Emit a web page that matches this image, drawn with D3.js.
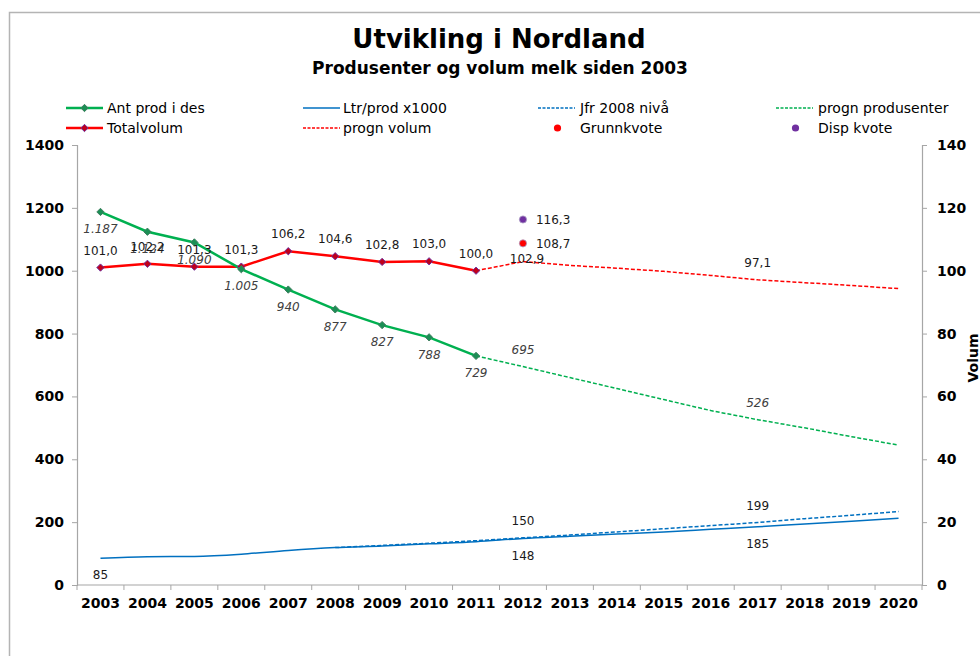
<!DOCTYPE html>
<html>
<head>
<meta charset="utf-8">
<script src="https://cdn.jsdelivr.net/npm/d3@7"></script>
<style>
  body { margin: 0; background: #fff; }
  text { font-family: "DejaVu Sans", Verdana, sans-serif; }
</style>
</head>
<body>
<script>
// data
var years = ["2003","2004","2005","2006","2007","2008","2009","2010","2011",
  "2012","2013","2014","2015","2016","2017","2018","2019","2020"];
var antProd = [1187, 1124, 1090, 1005, 940, 877, 827, 788, 729];              // 2003-2011
var prognProd = [729, 695, 660, 625, 590, 555, 526, 500, 472, 445];           // 2011-2020
var totalvolum = [101.0, 102.2, 101.3, 101.3, 106.2, 104.6, 102.8, 103.0, 100.0]; // 2003-2011
var prognVolum = [100.0, 102.9, 101.7, 100.8, 99.8, 98.5, 97.1, 96.2, 95.3, 94.3]; // 2011-2020
var ltrProd = [85, 90, 91, 98, 110, 119, 124, 131, 138, 148, 155, 162, 169, 177, 185, 194, 203, 212];
var jfr2008 = [119, 126, 133, 141, 150, 159, 169, 179, 189, 199, 211, 222, 234]; // 2008-2020
var grunnkvote = [{year: "2012", value: 108.7}];
var dispKvote = [{year: "2012", value: 116.3}];
var leftTicks = [0, 200, 400, 600, 800, 1000, 1200, 1400];
var rightTicks = [0, 20, 40, 60, 80, 100, 120, 140];
var progLabelYears = ["2012", "2017"];

var width = 980, height = 656,
  green = "#00B050", greenDark = "#1B8F55",
  red = "#FF0000", redDark = "#C0001A",
  blue = "#0070C0", purple = "#7030A0", axisGrey = "#a6a6a6";

var no = d3.formatLocale({decimal: ",", thousands: ".", grouping: [3], currency: ["", " kr"]}),
  fmtInt = no.format(",.0f"),
  fmtDec = no.format(",.1f");

var svg = d3.select("body").append("svg")
  .attr("width", width)
  .attr("height", height);

// outer frame
svg.append("rect")
  .attr("x", 9.5).attr("y", 12.5)
  .attr("width", 1000).attr("height", 700)
  .attr("fill", "none").attr("stroke", "#b4b4b4").attr("stroke-width", 1.5);

var x = d3.scaleBand().domain(years).range([77, 922]),
  yL = d3.scaleLinear().domain([0, 1400]).range([585, 145]),
  yR = d3.scaleLinear().domain([0, 140]).range([585, 145]);
function cx(yr) { return x(yr) + x.bandwidth() / 2; }

function series(vals, startYear) {
  var s = years.indexOf(startYear);
  return vals.map(function (v, i) { return {year: years[s + i], value: v}; });
}
var antData = series(antProd, "2003"),
  prognProdData = series(prognProd, "2011"),
  volData = series(totalvolum, "2003"),
  prognVolData = series(prognVolum, "2011"),
  ltrData = series(ltrProd, "2003"),
  jfrData = series(jfr2008, "2008");

// titles
svg.append("text").attr("x", 499).attr("y", 48).attr("text-anchor", "middle")
  .style("font-size", "26px").style("font-weight", "bold").text("Utvikling i Nordland");
svg.append("text").attr("x", 500).attr("y", 74).attr("text-anchor", "middle")
  .style("font-size", "17px").style("font-weight", "bold").text("Produsenter og volum melk siden 2003");

// axes
var gL = svg.append("g").attr("transform", "translate(77,0)")
  .call(d3.axisLeft(yL).tickValues(leftTicks).tickSize(5).tickPadding(8).tickFormat(d3.format("d")));
var gR = svg.append("g").attr("transform", "translate(922,0)")
  .call(d3.axisRight(yR).tickValues(rightTicks).tickSize(5).tickPadding(10));
var gX = svg.append("g").attr("transform", "translate(0,585)")
  .call(d3.axisBottom(x).tickSize(0).tickPadding(13));
[gL, gR, gX].forEach(function (g) {
  g.select(".domain").attr("stroke", axisGrey).attr("stroke-width", 1.2);
  g.selectAll(".tick line").attr("stroke", axisGrey);
  g.selectAll("text").style("font-size", "14px").style("font-weight", "bold")
    .style("font-family", "'DejaVu Sans', Verdana, sans-serif").attr("fill", "#000");
});
gX.select(".domain").attr("d", "M77,0H922");
// category boundary ticks
svg.append("g").selectAll("line")
  .data(years.concat(["end"]))
  .enter().append("line")
  .attr("x1", function (d, i) { return 77 + i * x.bandwidth(); })
  .attr("x2", function (d, i) { return 77 + i * x.bandwidth(); })
  .attr("y1", 585).attr("y2", 590)
  .attr("stroke", axisGrey);

svg.append("text")
  .attr("transform", "translate(978,358) rotate(-90)")
  .attr("text-anchor", "middle")
  .style("font-size", "14px").style("font-weight", "bold").text("Volum");

// lines
function line(y, curve) {
  return d3.line().x(function (d) { return cx(d.year); }).y(function (d) { return y(d.value); })
    .curve(curve || d3.curveLinear);
}
function drawLine(data, y, color, w, dash, curve) {
  svg.append("path").datum(data)
    .attr("d", line(y, curve))
    .attr("fill", "none").attr("stroke", color).attr("stroke-width", w)
    .attr("stroke-dasharray", dash || null);
}

drawLine(jfrData, yL, blue, 1.5, "4,2", d3.curveMonotoneX);
drawLine(ltrData, yL, blue, 1.5, null, d3.curveMonotoneX);
drawLine(prognProdData, yL, green, 1.5, "4,2");
drawLine(prognVolData, yR, red, 1.5, "4,2");
drawLine(volData, yR, red, 2.5);
drawLine(antData, yL, green, 2.5);

var diamond = d3.symbol().type(d3.symbolDiamond2).size(34);
function drawMarkers(data, y, fill, stroke) {
  svg.append("g").selectAll("path").data(data).enter().append("path")
    .attr("transform", function (d) { return "translate(" + cx(d.year) + "," + y(d.value) + ")"; })
    .attr("d", diamond)
    .attr("fill", fill).attr("stroke", stroke).attr("stroke-width", 1);
}
drawMarkers(volData, yR, redDark, purple);
drawMarkers(antData, yL, greenDark, "#3f7f5f");

// kvote dots
function drawDots(data, color) {
  svg.append("g").selectAll("circle").data(data).enter().append("circle")
    .attr("cx", function (d) { return cx(d.year); })
    .attr("cy", function (d) { return yR(d.value); })
    .attr("r", 3.6).attr("fill", color).attr("stroke", "#a99cc4").attr("stroke-width", 0.8);
  svg.append("g").selectAll("text").data(data).enter().append("text")
    .attr("x", function (d) { return cx(d.year) + 13; })
    .attr("y", function (d) { return yR(d.value); })
    .attr("dy", "0.35em")
    .style("font-size", "12px").attr("fill", "#1a1a1a")
    .text(function (d) { return fmtDec(d.value); });
}
drawDots(dispKvote, purple);
drawDots(grunnkvote, red);

// data labels
function labels(data, y, off, fmt, italic, dx) {
  svg.append("g").selectAll("text").data(data).enter().append("text")
    .attr("x", function (d) { return cx(d.year) + (dx || 0); })
    .attr("y", function (d) { return y(d.value) + off; })
    .attr("dy", "0.35em")
    .attr("text-anchor", "middle")
    .style("font-size", "12px")
    .style("font-style", italic ? "italic" : "normal")
    .attr("fill", italic ? "#404040" : "#1a1a1a")
    .text(function (d) { return fmt(d.value); });
}
function pick(data, yrs) { return data.filter(function (d) { return yrs.indexOf(d.year) >= 0; }); }

labels(antData, yL, 17, fmtInt, true);
labels(volData, yR, -17, fmtDec, false);
labels(pick(prognProdData, progLabelYears), yL, -17, fmtInt, true);
labels(pick(prognVolData, ["2017"]), yR, -17, fmtDec, false);
labels(pick(prognVolData, ["2012"]), yR, -3, fmtDec, false, 4);
labels(pick(ltrData, ["2003"].concat(progLabelYears)), yL, 17, fmtInt, false);
labels(pick(jfrData, progLabelYears), yL, -17, fmtInt, false);

// legend
var legend = [
  {name: "Ant prod i des", x: 66, row: 0, type: "marker", color: green, fill: greenDark, stroke: "#3f7f5f"},
  {name: "Ltr/prod x1000", x: 303, row: 0, type: "line", color: blue},
  {name: "Jfr 2008 nivå", x: 538, row: 0, type: "dash", color: blue},
  {name: "progn produsenter", x: 776, row: 0, type: "dash", color: green},
  {name: "Totalvolum", x: 66, row: 1, type: "marker", color: red, fill: redDark, stroke: purple},
  {name: "progn volum", x: 303, row: 1, type: "dash", color: red},
  {name: "Grunnkvote", x: 538, row: 1, type: "dot", color: red},
  {name: "Disp kvote", x: 776, row: 1, type: "dot", color: purple}
];
var lg = svg.append("g").selectAll("g").data(legend).enter().append("g")
  .attr("transform", function (d) { return "translate(" + d.x + "," + (108 + d.row * 20) + ")"; });
lg.filter(function (d) { return d.type != "dot"; }).append("line")
  .attr("x1", 0).attr("x2", 37)
  .attr("stroke", function (d) { return d.color; })
  .attr("stroke-width", function (d) { return d.type == "marker" ? 2.5 : 1.5; })
  .attr("stroke-dasharray", function (d) { return d.type == "dash" ? "3,1.5" : null; });
lg.filter(function (d) { return d.type == "marker"; }).append("path")
  .attr("transform", "translate(18.5,0)")
  .attr("d", diamond)
  .attr("fill", function (d) { return d.fill; })
  .attr("stroke", function (d) { return d.stroke; });
lg.filter(function (d) { return d.type == "dot"; }).append("circle")
  .attr("cx", 19.5).attr("r", 3.6)
  .attr("fill", function (d) { return d.color; });
lg.append("text")
  .attr("x", function (d) { return d.x < 300 ? 41 : (d.x < 500 ? 40 : 42); })
  .attr("dy", "0.35em")
  .style("font-size", "14px")
  .text(function (d) { return d.name; });
</script>
</body>
</html>
